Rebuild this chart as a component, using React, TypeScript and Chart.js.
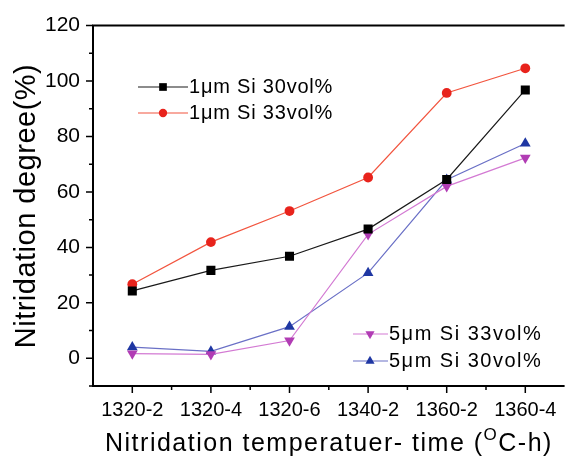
import React, { useEffect, useRef } from 'react';
import { Chart, registerables } from 'chart.js';

Chart.register(...registerables);

const FONT = '"Liberation Sans", Arial, sans-serif';

const categories = ['1320-2', '1320-4', '1320-6', '1340-2', '1360-2', '1360-4'];
const yTickValues = [-10, 0, 10, 20, 30, 40, 50, 60, 70, 80, 90, 100, 110, 120];

const si1um30 = [24.3, 31.7, 36.8, 46.6, 64.5, 96.8];
const si1um33 = [26.7, 41.9, 53.1, 65.2, 95.7, 104.6];
const si5um33 = [1.7, 1.4, 6.4, 44.7, 62.0, 72.3];
const si5um30 = [4.0, 2.5, 11.4, 30.8, 64.4, 77.5];

const seriesNames = ['1μm Si 30vol%', '1μm Si 33vol%', '5μm Si 33vol%', '5μm Si 30vol%'];

const STY = {
  black: { line: '#1a1a1a', mark: '#000000', style: 'rect', r: 6.4, rot: 0 },
  red: { line: '#f2553f', mark: '#e8231c', style: 'circle', r: 4.9, rot: 0 },
  magenta: { line: '#d37ad3', mark: '#b13cb4', style: 'triangle', r: 6.2, rot: 180 },
  blue: { line: '#6a70c6', mark: '#1f37a3', style: 'triangle', r: 6.2, rot: 0 },
};

function drawMarker(ctx: CanvasRenderingContext2D, kind: string, x: number, y: number, r: number, rot: number, color: string) {
  ctx.save();
  ctx.fillStyle = color;
  ctx.beginPath();
  if (kind === 'rect') {
    const s = r * Math.SQRT1_2;
    ctx.rect(x - s, y - s, 2 * s, 2 * s);
  } else if (kind === 'circle') {
    ctx.arc(x, y, r, 0, Math.PI * 2);
  } else {
    let a = (rot * Math.PI) / 180;
    ctx.moveTo(x + Math.sin(a) * r, y - Math.cos(a) * r);
    a += (2 * Math.PI) / 3;
    ctx.lineTo(x + Math.sin(a) * r, y - Math.cos(a) * r);
    a += (2 * Math.PI) / 3;
    ctx.lineTo(x + Math.sin(a) * r, y - Math.cos(a) * r);
    ctx.closePath();
  }
  ctx.fill();
  ctx.restore();
}

const framePlugin = {
  id: 'frame',
  afterDraw(chart: any) {
    const { ctx, chartArea } = chart;
    const { left, right, top, bottom } = chartArea;
    const xs = chart.scales.x;
    const ys = chart.scales.y;
    ctx.save();
    ctx.strokeStyle = '#000';
    ctx.lineWidth = 2;
    ctx.beginPath();
    ctx.moveTo(left, top);
    ctx.lineTo(right, top);
    ctx.moveTo(left, top - 1);
    ctx.lineTo(left, bottom + 1);
    ctx.moveTo(left - 1, bottom);
    ctx.lineTo(right, bottom);
    ctx.stroke();
    ctx.lineWidth = 1.5;
    ctx.beginPath();
    yTickValues.forEach((v) => {
      const y = ys.getPixelForValue(v);
      const len = v % 20 === 0 ? 7 : 4;
      ctx.moveTo(left - len, y);
      ctx.lineTo(left, y);
    });
    categories.forEach((_, i) => {
      const x = xs.getPixelForValue(i);
      ctx.moveTo(x, bottom);
      ctx.lineTo(x, bottom + 7);
      const xm = xs.getPixelForValue(i + 0.5);
      if (xm < right - 1) {
        ctx.moveTo(xm, bottom);
        ctx.lineTo(xm, bottom + 4);
      }
    });
    ctx.stroke();

    // axis titles
    ctx.fillStyle = '#000';
    ctx.textBaseline = 'alphabetic';
    (ctx as any).letterSpacing = '1.5px';
    ctx.font = `25px ${FONT}`;
    const part1 = 'Nitridation temperatuer- time (';
    const part2 = 'C-h)';
    let x = 105;
    const base = 451;
    ctx.textAlign = 'left';
    ctx.fillText(part1, x, base);
    x += ctx.measureText(part1).width;
    ctx.font = `17px ${FONT}`;
    ctx.fillText('O', x, base - 11);
    x += ctx.measureText('O').width;
    ctx.font = `25px ${FONT}`;
    ctx.fillText(part2, x, base);

    ctx.save();
    (ctx as any).letterSpacing = '0.5px';
    ctx.translate(35, 206);
    ctx.rotate(-Math.PI / 2);
    ctx.font = `29px ${FONT}`;
    ctx.textAlign = 'center';
    ctx.fillText('Nitridation degree(%)', 0, 0);
    ctx.restore();

    // legends
    const entries = [
      { s: STY.black, name: seriesNames[0], x0: 138, x1: 188, mx: 163, y: 87, ls: '0.8px' },
      { s: STY.red, name: seriesNames[1], x0: 138, x1: 188, mx: 163, y: 113, ls: '0.8px' },
      { s: STY.magenta, name: seriesNames[2], x0: 353, x1: 388, mx: 370, y: 334, ls: '1.5px' },
      { s: STY.blue, name: seriesNames[3], x0: 353, x1: 388, mx: 370, y: 361, ls: '1.5px' },
    ];
    entries.forEach((e) => {
      ctx.strokeStyle = e.s.line;
      ctx.lineWidth = 1.2;
      ctx.beginPath();
      ctx.moveTo(e.x0, e.y);
      ctx.lineTo(e.x1, e.y);
      ctx.stroke();
      drawMarker(ctx, e.s.style, e.mx, e.y, e.s.r * 0.85, e.s.rot, e.s.mark);
      (ctx as any).letterSpacing = e.ls;
      ctx.font = `20px ${FONT}`;
      ctx.textAlign = 'left';
      ctx.textBaseline = 'middle';
      ctx.fillStyle = '#000';
      ctx.fillText(e.name, e.x1 + 1, e.y);
    });
    ctx.restore();
  },
};

function ds(label: string, data: number[], s: any) {
  return {
    label,
    data,
    borderColor: s.line,
    borderWidth: 1.2,
    backgroundColor: s.mark,
    pointStyle: s.style,
    pointRotation: s.rot,
    pointRadius: s.r,
    pointBackgroundColor: s.mark,
    pointBorderColor: s.mark,
    pointBorderWidth: 0,
    tension: 0,
    fill: false,
  };
}

export default function App() {
  const ref = useRef<HTMLCanvasElement>(null);
  useEffect(() => {
    document.body.style.margin = '0';
    const chart = new Chart(ref.current as HTMLCanvasElement, {
      type: 'line',
      data: {
        labels: categories,
        datasets: [
          ds(seriesNames[0], si1um30, STY.black),
          ds(seriesNames[1], si1um33, STY.red),
          ds(seriesNames[2], si5um33, STY.magenta),
          ds(seriesNames[3], si5um30, STY.blue),
        ] as any,
      },
      options: {
        responsive: false,
        maintainAspectRatio: false,
        animation: false,
        layout: { padding: { top: 21, right: 0, left: 0, bottom: 0 } },
        plugins: { legend: { display: false }, tooltip: { enabled: false } },
        scales: {
          x: {
            type: 'category',
            offset: true,
            grid: { display: false, drawTicks: false },
            border: { display: false },
            ticks: {
              font: { family: FONT, size: 20 },
              color: '#000',
              padding: 12,
              maxRotation: 0,
              autoSkip: false,
            },
            afterFit: (s: any) => {
              s.height = 75;
            },
          },
          y: {
            type: 'linear',
            min: -10,
            max: 120,
            grid: { display: false, drawTicks: false },
            border: { display: false },
            ticks: {
              autoSkip: false,
              font: { family: FONT, size: 21 },
              color: '#000',
              padding: 13,
              callback: (v: any) => (Number(v) % 20 === 0 ? String(v) : ''),
            },
            afterBuildTicks: (s: any) => {
              s.ticks = yTickValues.map((v) => ({ value: v }));
            },
            afterFit: (s: any) => {
              s.width = 93;
            },
          },
        },
      } as any,
      plugins: [framePlugin],
    });
    return () => chart.destroy();
  }, []);
  return (
    <div style={{ width: 571, height: 461 }}>
      <canvas ref={ref} width={571} height={461} style={{ display: 'block' }} />
    </div>
  );
}
